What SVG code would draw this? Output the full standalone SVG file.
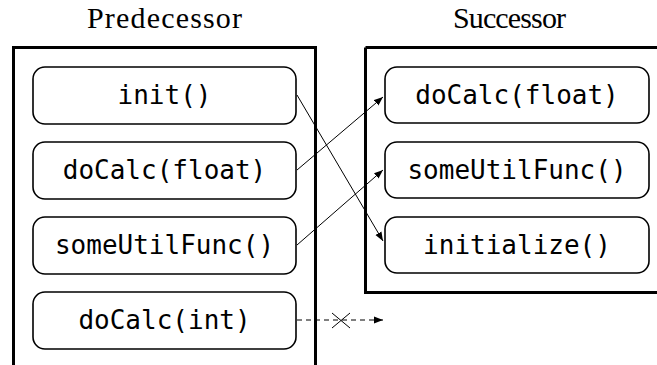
<svg xmlns="http://www.w3.org/2000/svg" width="657" height="365" viewBox="0 0 657 365">
  <defs>
    <marker id="arrow" markerWidth="10" markerHeight="8" refX="9" refY="4" orient="auto" markerUnits="userSpaceOnUse">
      <path d="M0,0.5 L9,4 L0,7.5 Z" fill="#000"/>
    </marker>
    <style>
      .frame { fill: none; stroke: #000; stroke-width: 3; }
      .node rect { fill: #fff; stroke: #000; stroke-width: 1.6; }
      .node text { font-family: "DejaVu Sans Mono", monospace; font-size: 26px; text-anchor: middle; fill: #000; }
      .title { font-family: "Liberation Serif", "DejaVu Serif", serif; font-size: 30px; text-anchor: middle; fill: #000; }
      .link { fill: none; stroke: #000; stroke-width: 1; marker-end: url(#arrow); }
      .dashed { stroke-dasharray: 5 4; }
    </style>
  </defs>
  <rect width="657" height="365" fill="#fff"/>

  <!-- class titles -->
  <text class="title" x="164.5" y="28" textLength="155">Predecessor</text>
  <text class="title" x="509.5" y="28" textLength="113">Successor</text>

  <!-- class frames -->
  <path class="frame" d="M13.5,366 V47.5 H315.5 V366"/>
  <path class="frame" d="M365.5,47.5 H660 M365.5,47.5 V292.5 H660"/>

  <!-- Predecessor members -->
  <g id="pred-init" class="node">
    <rect x="33" y="67" width="263" height="57" rx="12"/>
    <text x="164.5" y="104">init()</text>
  </g>
  <g id="pred-docalc-float" class="node">
    <rect x="33" y="142" width="263" height="57" rx="12"/>
    <text x="164.5" y="179">doCalc(float)</text>
  </g>
  <g id="pred-someutilfunc" class="node">
    <rect x="33" y="217" width="263" height="57" rx="12"/>
    <text x="164.5" y="254">someUtilFunc()</text>
  </g>
  <g id="pred-docalc-int" class="node">
    <rect x="33" y="292" width="263" height="57" rx="12"/>
    <text x="164.5" y="329">doCalc(int)</text>
  </g>

  <!-- Successor members -->
  <g id="succ-docalc-float" class="node">
    <rect x="385" y="67" width="264" height="56" rx="12"/>
    <text x="517" y="104">doCalc(float)</text>
  </g>
  <g id="succ-someutilfunc" class="node">
    <rect x="385" y="142" width="264" height="56" rx="12"/>
    <text x="517" y="179">someUtilFunc()</text>
  </g>
  <g id="succ-initialize" class="node">
    <rect x="385" y="217" width="264" height="56" rx="12"/>
    <text x="517" y="254">initialize()</text>
  </g>

  <!-- mappings -->
  <g id="connectors">
    <line class="link" x1="297" y1="95" x2="383" y2="241"/>
    <line class="link" x1="297" y1="170" x2="383" y2="97"/>
    <line class="link" x1="297" y1="245" x2="383" y2="170"/>
    <line class="link dashed" x1="297" y1="320" x2="383" y2="320"/>
    <path d="M332,313 L350,328 M332,328 L350,313" stroke="#000" stroke-width="1" fill="none"/>
  </g>
</svg>
